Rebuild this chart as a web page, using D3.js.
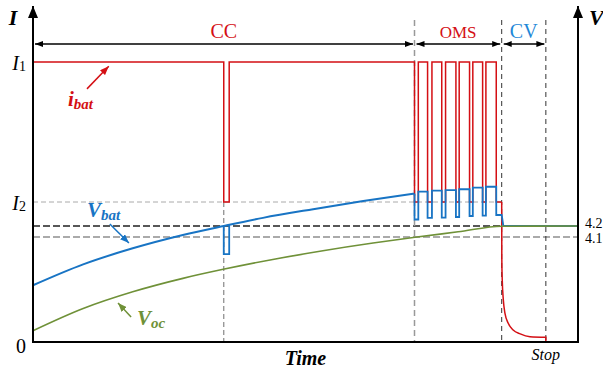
<!DOCTYPE html>
<html>
<head>
<meta charset="utf-8">
<script src="https://cdn.jsdelivr.net/npm/d3@7"></script>
<style>
  html, body { margin: 0; padding: 0; background: #fff; }
  svg { display: block; }
</style>
</head>
<body>
<svg id="chart" width="603" height="376"></svg>
<script>
// charging phases on a 0..100 time axis
const phaseNames = ["CC", "OMS", "CV"];
const phaseEdges = [0, 70, 86, 94.1];
const ccDip = [35, 36];

// current levels (I1 = 1, I2 = 0.5)
const I1 = 1, I2 = 0.5;
const currentTicks = [0, I2, I1];
const currentTickLabels = [["0", ""], ["I", "2"], ["I", "1"]];

const voltTicks = [4.2, 4.1];
const voltTickLabels = ["4.2", "4.1"];

// CC phase: battery voltage and open-circuit voltage
const ccTime = [0, 9.2, 18.3, 27.5, 35, 42.2, 51.4, 60.6, 70];
const ccVbat = [3.661, 3.851, 3.997, 4.118, 4.2, 4.274, 4.353, 4.427, 4.494];
const vbatDip = [4.2, 3.945, 3.945, 4.21];

const vocTime = [0, 9.2, 18.3, 27.5, 34.9, 44, 53.2, 62.4, 70.1, 78, 86, 100];
const vocValue = [3.248, 3.450, 3.602, 3.724, 3.806, 3.896, 3.975, 4.045, 4.097, 4.147, 4.198, 4.2];

// OMS phase: pulse segments
const omsEdges = [70, 70.7, 72.4, 73.2, 75, 75.7, 77.6, 78.2, 80.1, 80.7, 82.5, 83.1, 85, 86];
const omsCurrent = [I2, I1, I2, I1, I2, I1, I2, I1, I2, I1, I2, I1, I2];
const omsVbat = [4.259, 4.512, 4.273, 4.521, 4.277, 4.527, 4.282, 4.534, 4.291, 4.548, 4.295, 4.557, 4.300];

// CV phase: current decay
const cvTime = [86, 86.02, 86.1, 86.3, 86.6, 87.2, 88.1, 89.4, 91.2, 94.1];
const cvCurrent = [0.5, 0.3, 0.221, 0.15, 0.102, 0.067, 0.043, 0.029, 0.019, 0.017];
const cvVbatEnd = [86.3, 100];

const RED = "#d40f14", BLUE = "#1874c4", GREEN = "#6f9138";
const SERIF = "Liberation Serif";

const svg = d3.select("#chart");
const plotLeft = 33, plotRight = 578, plotBottom = 342, plotTop = 5;

const x = d3.scaleLinear().domain([0, 100]).range([plotLeft, plotRight]);
const yI = d3.scaleLinear().domain([0, 1]).range([plotBottom, 62]);
const yV = d3.scaleLinear().domain([4.1, 4.2]).range([237, 226]);

// markers
const defs = svg.append("defs");
function marker(id, color, w, h) {
    defs.append("marker")
        .attr("id", id)
        .attr("viewBox", `0 0 ${w} ${h}`)
        .attr("refX", w).attr("refY", h / 2)
        .attr("markerWidth", w).attr("markerHeight", h)
        .attr("markerUnits", "userSpaceOnUse")
        .attr("orient", "auto-start-reverse")
        .append("path")
        .attr("d", `M0,0L${w},${h / 2}L0,${h}Z`)
        .attr("fill", color);
}
marker("axisHead", "#000", 12, 10);
marker("spanHead", "#000", 8, 6);
marker("redHead", RED, 9, 7);
marker("blueHead", BLUE, 9, 7);
marker("greenHead", GREEN, 9, 7);

// reference dashed lines
svg.append("line")
    .attr("x1", plotLeft).attr("x2", x(phaseEdges[2]))
    .attr("y1", yI(I2)).attr("y2", yI(I2))
    .attr("stroke", "#aaa").attr("stroke-width", 1).attr("stroke-dasharray", "5,3");
svg.append("line")
    .attr("x1", plotLeft).attr("x2", plotRight)
    .attr("y1", yV(4.2)).attr("y2", yV(4.2))
    .attr("stroke", "#222").attr("stroke-width", 1.5).attr("stroke-dasharray", "7,3");
svg.append("line")
    .attr("x1", plotLeft).attr("x2", plotRight)
    .attr("y1", yV(4.1)).attr("y2", yV(4.1))
    .attr("stroke", "#aaa").attr("stroke-width", 1.8).attr("stroke-dasharray", "7,3");

svg.append("line")
    .attr("x1", x(ccDip[0])).attr("x2", x(ccDip[0]))
    .attr("y1", yI(I2)).attr("y2", plotBottom)
    .attr("stroke", "#888").attr("stroke-width", 1.2).attr("stroke-dasharray", "5,3");
svg.append("line")
    .attr("x1", x(phaseEdges[1])).attr("x2", x(phaseEdges[1]))
    .attr("y1", 20).attr("y2", plotBottom)
    .attr("stroke", "#999").attr("stroke-width", 1.5).attr("stroke-dasharray", "6,4");
[phaseEdges[2], phaseEdges[3]].forEach(t => {
    svg.append("line")
        .attr("x1", x(t)).attr("x2", x(t))
        .attr("y1", 20).attr("y2", plotBottom)
        .attr("stroke", "#333").attr("stroke-width", 1).attr("stroke-dasharray", "5,4");
});

// phase spans
const spanY = 44;
phaseNames.forEach((name, i) => {
    const x0 = x(phaseEdges[i]), x1 = x(phaseEdges[i + 1]);
    svg.append("line")
        .attr("x1", x0 + 2).attr("x2", x1 - 1.5)
        .attr("y1", spanY).attr("y2", spanY)
        .attr("stroke", "#000").attr("stroke-width", 1.3)
        .attr("marker-start", "url(#spanHead)")
        .attr("marker-end", "url(#spanHead)");
    svg.append("text")
        .attr("x", (x0 + x1) / 2).attr("y", 38)
        .attr("text-anchor", "middle")
        .attr("font-size", i === 1 ? 17 : 20)
        .attr("fill", i === 2 ? "#1e88d8" : RED)
        .text(name);
});

// i_bat
const ibatPts = [[0, I1], [ccDip[0], I1], [ccDip[0], I2], [ccDip[1], I2], [ccDip[1], I1], [phaseEdges[1], I1]];
omsCurrent.forEach((c, i) => {
    ibatPts.push([omsEdges[i], c], [omsEdges[i + 1], c]);
});
const lineI = d3.line().x(d => x(d[0])).y(d => yI(d[1]));
svg.append("path")
    .attr("d", lineI(ibatPts))
    .attr("fill", "none").attr("stroke", RED).attr("stroke-width", 1.5);
const cvPts = cvTime.map((t, i) => [t, cvCurrent[i]]);
svg.append("path")
    .attr("d", d3.line().x(d => x(d[0])).y(d => yI(d[1])).curve(d3.curveMonotoneX)(cvPts)
        + `L${x(phaseEdges[3])},${yI(0)}`)
    .attr("fill", "none").attr("stroke", RED).attr("stroke-width", 1.5);

// V_bat
const lineV = d3.line().x(d => x(d[0])).y(d => yV(d[1]));
svg.append("path")
    .attr("d", lineV.curve(d3.curveMonotoneX)(ccTime.map((t, i) => [t, ccVbat[i]])))
    .attr("fill", "none").attr("stroke", BLUE).attr("stroke-width", 2);
lineV.curve(d3.curveLinear);
svg.append("path")
    .attr("d", lineV([[ccDip[0], vbatDip[0]], [ccDip[0], vbatDip[1]], [ccDip[1], vbatDip[2]], [ccDip[1], vbatDip[3]]]))
    .attr("fill", "none").attr("stroke", BLUE).attr("stroke-width", 1.8);
const omsV = [[phaseEdges[1], ccVbat[ccVbat.length - 1]]];
omsVbat.forEach((v, i) => {
    omsV.push([omsEdges[i], v], [omsEdges[i + 1], v]);
});
omsV.push([cvVbatEnd[0], 4.2], [cvVbatEnd[1], 4.2]);
svg.append("path")
    .attr("d", lineV(omsV))
    .attr("fill", "none").attr("stroke", BLUE).attr("stroke-width", 1.8);

// V_oc
svg.append("path")
    .attr("d", d3.line().x(d => x(d[0])).y(d => yV(d[1])).curve(d3.curveMonotoneX)(vocTime.map((t, i) => [t, vocValue[i]])))
    .attr("fill", "none").attr("stroke", GREEN).attr("stroke-width", 1.6);

// axes
svg.append("path")
    .attr("d", `M${plotLeft},${plotBottom}V${plotTop + 1}`)
    .attr("stroke", "#000").attr("stroke-width", 2)
    .attr("marker-end", "url(#axisHead)");
svg.append("path")
    .attr("d", `M${plotRight},${plotBottom}V${plotTop + 1}`)
    .attr("stroke", "#000").attr("stroke-width", 2)
    .attr("marker-end", "url(#axisHead)");
svg.append("line")
    .attr("x1", plotLeft - 1).attr("x2", plotRight + 1)
    .attr("y1", plotBottom).attr("y2", plotBottom)
    .attr("stroke", "#000").attr("stroke-width", 2);

// tick labels
currentTicks.forEach((d, i) => {
    const t = svg.append("text")
        .attr("x", 26).attr("y", yI(d) + (d === 0 ? 11 : 8))
        .attr("text-anchor", "end")
        .attr("font-size", 20);
    t.append("tspan").attr("font-style", d === 0 ? null : "italic").text(currentTickLabels[i][0]);
    t.append("tspan").attr("font-size", 14).attr("dy", 1).text(currentTickLabels[i][1]);
});
voltTicks.forEach((d, i) => {
    svg.append("text")
        .attr("x", 585).attr("y", yV(d) + (i === 0 ? 2 : 6))
        .attr("font-size", 14)
        .text(voltTickLabels[i]);
});

// axis titles
svg.append("text").attr("x", 13).attr("y", 25).attr("text-anchor", "middle")
    .attr("font-size", 22).attr("font-weight", "bold").attr("font-style", "italic").text("I");
svg.append("text").attr("x", 589).attr("y", 25)
    .attr("font-size", 22).attr("font-weight", "bold").attr("font-style", "italic").text("V");
svg.append("text").attr("x", (plotLeft + plotRight) / 2).attr("y", 365).attr("text-anchor", "middle")
    .attr("font-size", 20).attr("font-weight", "bold").attr("font-style", "italic").text("Time");
svg.append("text").attr("x", x(phaseEdges[3])).attr("y", 360).attr("text-anchor", "middle")
    .attr("font-size", 16).attr("font-style", "italic").text("Stop");

// curve annotations
function note(from, to, head, color, main, sub, tx, ty) {
    svg.append("line")
        .attr("x1", from[0]).attr("y1", from[1])
        .attr("x2", to[0]).attr("y2", to[1])
        .attr("stroke", color).attr("stroke-width", 1.5)
        .attr("marker-end", `url(#${head})`);
    const t = svg.append("text").attr("x", tx).attr("y", ty)
        .attr("fill", color).attr("font-weight", "bold").attr("font-style", "italic")
        .attr("font-size", 21);
    t.append("tspan").text(main);
    t.append("tspan").attr("font-size", 15).attr("dy", 3).text(sub);
}
note([x(9.9), yI(0.904)], [x(13.9), yI(0.985)], "redHead", RED, "i", "bat", 68, 106);
note([x(14.1), yV(4.218)], [x(17.6), yV(4.045)], "blueHead", BLUE, "V", "bat", 87, 217);
note([x(18.0), yV(3.373)], [x(15.6), yV(3.5)], "greenHead", GREEN, "V", "oc", 137, 325);

svg.selectAll("text").attr("font-family", SERIF);
</script>
</body>
</html>
